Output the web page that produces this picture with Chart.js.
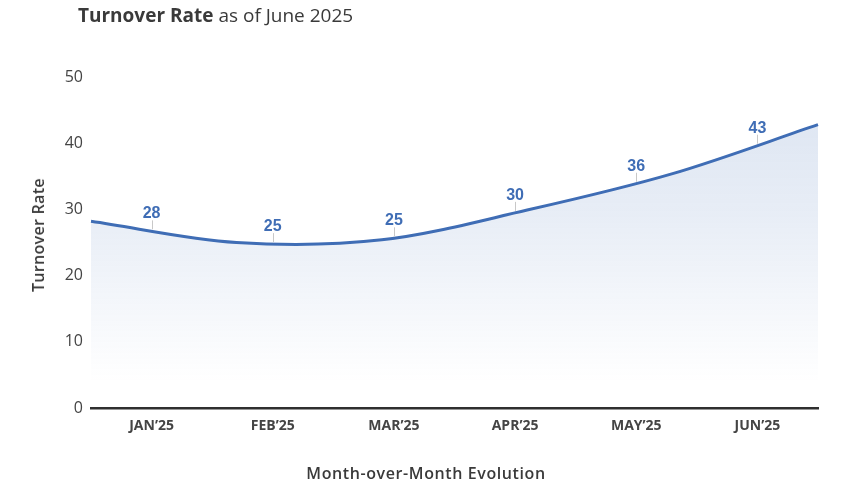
<!DOCTYPE html>
<html>
<head>
<meta charset="utf-8">
<script src="https://cdn.jsdelivr.net/npm/chart.js@4.4.1/dist/chart.umd.min.js"></script>
<style>
  html, body { margin: 0; padding: 0; background: #ffffff; }
  #wrap { position: relative; width: 847px; height: 492px; overflow: hidden; }
  #chart { position: absolute; left: 0; top: 0; }
  .title { position: absolute; left: 78px; top: 2px; font-family: "Open Sans", sans-serif; font-size: 19px; color: #3a3a3a; white-space: nowrap; }
  .title b { font-weight: 700; }
  .ytitle { position: absolute; left: 38px; top: 235px; transform: translate(-50%, -50%) rotate(-90deg); font-family: "Open Sans", sans-serif; font-size: 16px; font-weight: 600; letter-spacing: 0.3px; color: #3a3a3a; white-space: nowrap; }
  .xtitle { position: absolute; left: 426px; top: 473px; transform: translate(-50%, -50%); font-family: "Open Sans", sans-serif; font-size: 16px; font-weight: 600; letter-spacing: 0.6px; color: #3a3a3a; white-space: nowrap; }
</style>
</head>
<body>
<div id="wrap">
  <canvas id="chart" width="847" height="492"></canvas>
  <div class="title"><b>Turnover Rate</b> as of June 2025</div>
  <div class="ytitle">Turnover Rate</div>
  <div class="xtitle">Month-over-Month Evolution</div>
</div>
<script>
const months = ["JAN’25", "FEB’25", "MAR’25", "APR’25", "MAY’25", "JUN’25"];
const turnover = [28.2, 25.0, 25.4, 29.9, 35.4, 42.8];
const valueLabels = [28, 25, 25, 30, 36, 43];
const yTicks = [0, 10, 20, 30, 40, 50];

const BLUE = '#3f6db5';

function bez(t, a, b, c, d) {
  const u = 1 - t;
  return u*u*u*a + 3*u*u*t*b + 3*u*t*t*c + t*t*t*d;
}
function curveY(pts, X) {
  for (let i = 0; i < pts.length - 1; i++) {
    const a = pts[i], b = pts[i+1];
    if (X >= a.x && X <= b.x) {
      const c1x = a.cp2x ?? a.x, c1y = a.cp2y ?? a.y, c2x = b.cp1x ?? b.x, c2y = b.cp1y ?? b.y;
      let lo = 0, hi = 1;
      for (let k = 0; k < 50; k++) {
        const mid = (lo + hi) / 2;
        if (bez(mid, a.x, c1x, c2x, b.x) < X) lo = mid; else hi = mid;
      }
      return bez(lo, a.y, c1y, c2y, b.y);
    }
  }
  return pts[pts.length-1].y;
}

const valueTags = {
  id: 'valueTags',
  afterDatasetsDraw(chart) {
    const pts = chart.getDatasetMeta(0).data;
    const xs = chart.scales.x2;
    const ctx = chart.ctx;
    ctx.save();
    valueLabels.forEach((v, i) => {
      const X = xs.getPixelForValue(i);
      const y = curveY(pts, X);
      ctx.strokeStyle = '#c8c8c8';
      ctx.lineWidth = 1;
      ctx.beginPath();
      ctx.moveTo(Math.round(X) + 0.5, y - 11);
      ctx.lineTo(Math.round(X) + 0.5, y - 2);
      ctx.stroke();
      ctx.fillStyle = BLUE;
      ctx.font = 'bold 16px "Liberation Sans", Arial, sans-serif';
      ctx.textAlign = 'center';
      ctx.textBaseline = 'alphabetic';
      ctx.fillText(String(v), X, y - 13);
    });
    ctx.restore();
  }
};

new Chart(document.getElementById('chart'), {
  type: 'line',
  data: {
    labels: months,
    datasets: [{
      data: turnover,
      xAxisID: 'x',
      yAxisID: 'y',
      borderColor: BLUE,
      borderWidth: 3,
      pointRadius: 0,
      pointHoverRadius: 0,
      tension: 0.33,
      fill: 'origin',
      backgroundColor(ctx) {
        const area = ctx.chart.chartArea;
        if (!area) return 'rgba(63,109,181,0.15)';
        const g = ctx.chart.ctx.createLinearGradient(0, area.top, 0, area.bottom - 25);
        g.addColorStop(0, 'rgba(63,109,181,0.19)');
        g.addColorStop(0.45, 'rgba(63,109,181,0.12)');
        g.addColorStop(1, 'rgba(63,109,181,0)');
        return g;
      }
    }]
  },
  options: {
    responsive: false,
    animation: false,
    layout: { padding: { left: 0, right: 29, top: 77, bottom: 54 } },
    plugins: { legend: { display: false }, tooltip: { enabled: false }, title: { display: false } },
    scales: {
      x: {
        type: 'category',
        display: false,
        offset: false
      },
      x2: {
        type: 'category',
        labels: months,
        position: 'bottom',
        offset: true,
        grid: { display: false, drawTicks: false },
        border: { display: true, color: '#2f2f2f', width: 2.5 },
        ticks: {
          color: '#444444',
          padding: 10,
          maxRotation: 0,
          font: { family: '"Open Sans", sans-serif', size: 14, weight: 'bold' }
        },
        afterFit(s) { s.height = 30; }
      },
      y: {
        min: 0,
        max: 50,
        afterBuildTicks(s) { s.ticks = yTicks.map(v => ({ value: v })); },
        grid: { display: false, drawTicks: false },
        border: { display: false },
        ticks: {
          color: '#444444',
          padding: 8,
          font: { family: '"Open Sans", sans-serif', size: 16 }
        },
        afterFit(s) { s.width = 91; }
      }
    }
  },
  plugins: [valueTags]
});
</script>
</body>
</html>
